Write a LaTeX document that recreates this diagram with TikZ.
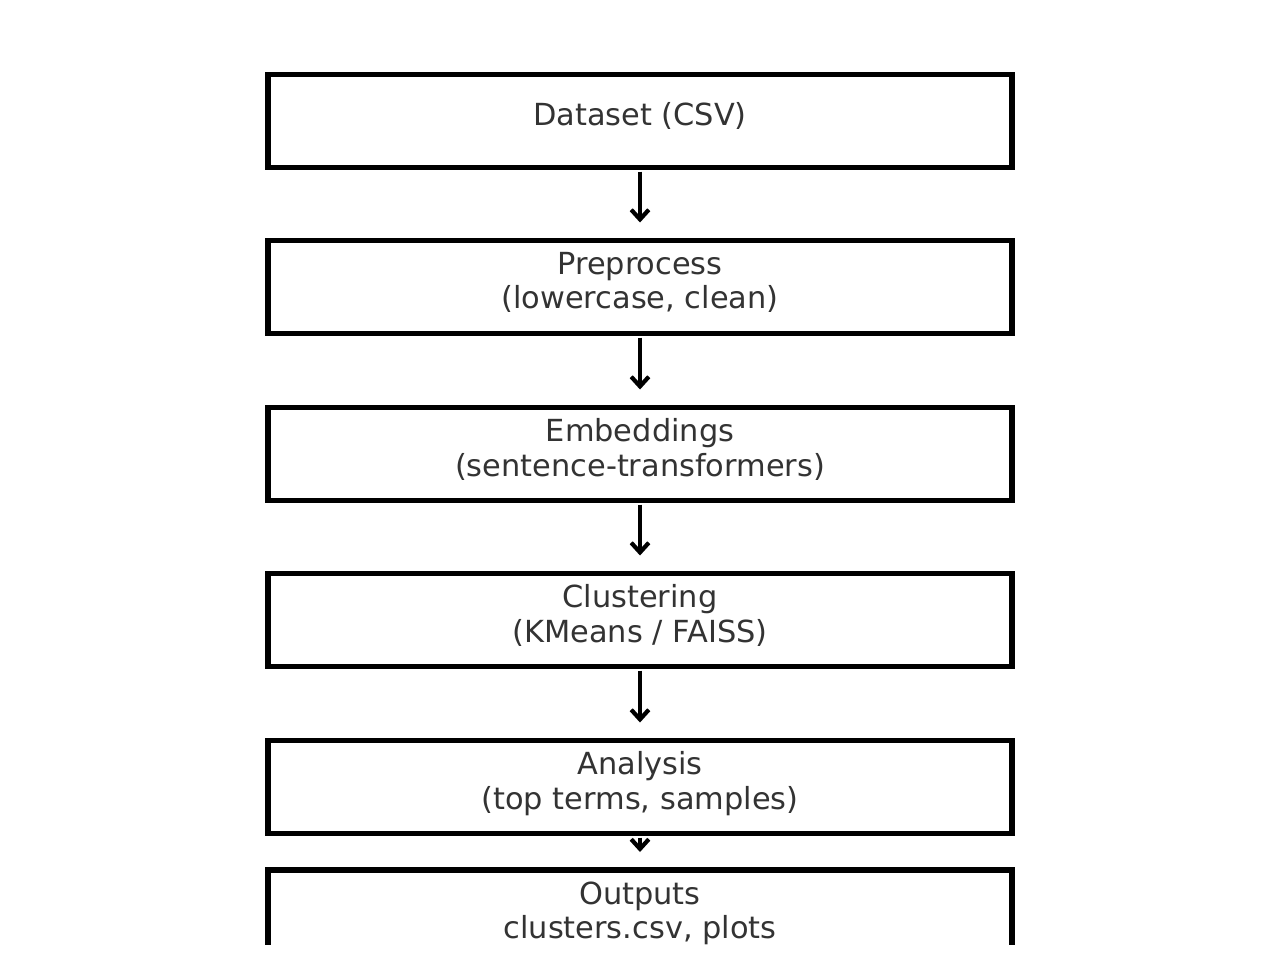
\documentclass[tikz,border=0pt]{standalone}
\usepackage{fontspec}
\setmainfont{DejaVu Sans}
\usepackage{tikz}
\usetikzlibrary{arrows.meta, positioning}
\definecolor{textgray}{RGB}{51, 51, 51}

\begin{document}
\begin{tikzpicture}[
    stage/.style={draw=black, line width=3.1pt, fill=white, minimum width=14.88cm, minimum height=1.86cm, outer sep=0pt, inner sep=0pt, text depth=7.5pt, text=textgray, font=\fontsize{17.3}{19.4}\selectfont, align=center},
    flow/.style={-{Straight Barb[length=5.5pt, width=10pt]}, line width=2.4pt, shorten <=0.08cm, shorten >=0.36cm},
]
    \useasboundingbox (0, 0) rectangle (25.6, -19.28);
    \fill[white] (0, 0) rectangle (25.6, -19.28);
    \begin{scope}
    \clip (0, 0) rectangle (25.6, -18.88);

    % Pipeline stages
    \node[stage] (dataset) at (12.8, -2.42) {Dataset (CSV)};
    \node[stage] (preprocess) at (12.8, -5.74) {Preprocess\\(lowercase, clean)};
    \node[stage] (embeddings) at (12.8, -9.08) {Embeddings\\(sentence-transformers)};
    \node[stage] (clustering) at (12.8, -12.40) {Clustering\\(KMeans / FAISS)};
    \node[stage] (analysis) at (12.8, -15.74) {Analysis\\(top terms, samples)};
    \node[stage] (outputs) at (12.8, -18.33) {Outputs\\clusters.csv, plots};

    % Connections
    \draw[flow] (dataset) -- (preprocess);
    \draw[flow] (preprocess) -- (embeddings);
    \draw[flow] (embeddings) -- (clustering);
    \draw[flow] (clustering) -- (analysis);
    \draw[flow] (analysis) -- (outputs);
    \end{scope}

\end{tikzpicture}
\end{document}
